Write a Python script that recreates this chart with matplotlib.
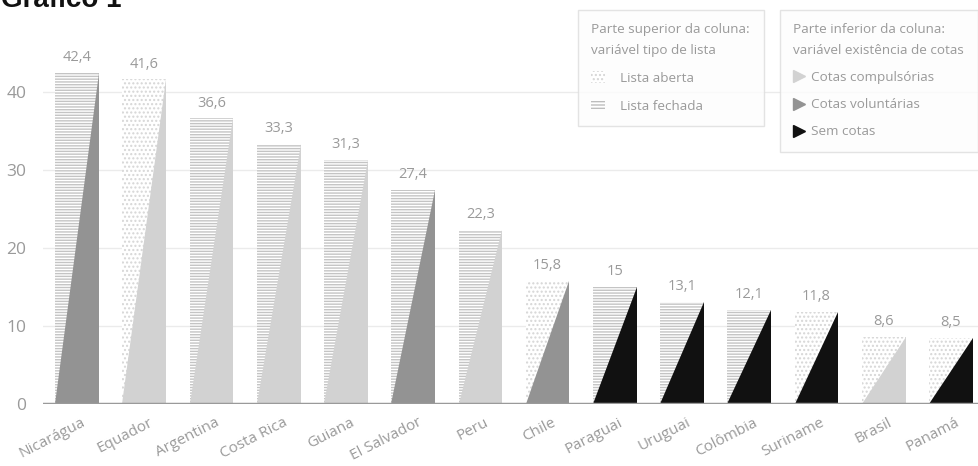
import matplotlib
matplotlib.use("Agg")
import matplotlib.pyplot as plt
from matplotlib.patches import Polygon, Patch
from matplotlib.lines import Line2D
from matplotlib.transforms import ScaledTranslation

paises = ["Nicarágua", "Equador", "Argentina", "Costa Rica", "Guiana", "El Salvador",
          "Peru", "Chile", "Paraguai", "Uruguai", "Colômbia", "Suriname", "Brasil", "Panamá"]
valores = [42.4, 41.6, 36.6, 33.3, 31.3, 27.4, 22.3, 15.8, 15, 13.1, 12.1, 11.8, 8.6, 8.5]
rotulos = ["42,4", "41,6", "36,6", "33,3", "31,3", "27,4", "22,3", "15,8", "15", "13,1",
           "12,1", "11,8", "8,6", "8,5"]
tipo_lista = ["fechada", "aberta", "fechada", "fechada", "fechada", "fechada", "fechada",
              "aberta", "fechada", "fechada", "fechada", "aberta", "aberta", "aberta"]
cotas = ["voluntarias", "compulsorias", "compulsorias", "compulsorias", "compulsorias",
         "voluntarias", "compulsorias", "voluntarias", "sem", "sem", "sem", "sem",
         "compulsorias", "sem"]

cor_cotas = {"compulsorias": "#d2d2d2", "voluntarias": "#939393", "sem": "#111111"}
hatch_lista = {"fechada": "------", "aberta": "...."}
cor_hatch = {"fechada": "#c4c4c4", "aberta": "#d6d6d6"}
grey_txt = "#9a9a9a"
font = "Open Sans"

plt.rcParams["hatch.linewidth"] = 1.0
plt.rcParams["font.family"] = [font, "DejaVu Sans"]

fig = plt.figure(figsize=(9.79, 4.66), dpi=100)
W, H = 979, 466
ax = fig.add_axes([43 / W, 62 / H, 936 / W, (404 - 45) / H])

width = 0.65
x = list(range(len(paises)))
for i, (v, lt, c) in enumerate(zip(valores, tipo_lista, cotas)):
    ax.bar(i, v, width=width, color="white", edgecolor=cor_hatch[lt],
           hatch=hatch_lista[lt], linewidth=0, zorder=2)
    tri = Polygon([(i - width / 2, 0), (i + width / 2, 0), (i + width / 2, v)],
                  closed=True, facecolor=cor_cotas[c], edgecolor="none", zorder=3)
    ax.add_patch(tri)
    ax.text(i, v + 1.0, rotulos[i], ha="center", va="bottom", fontsize=10.5,
            color=grey_txt, zorder=4)

ax.set_xlim(-0.506, 13.417)
ax.set_ylim(0, 46)
ax.set_yticks([0, 10, 20, 30, 40])
ax.yaxis.grid(True, color="#ebebeb", linewidth=1, zorder=0)
ax.set_axisbelow(True)
for s in ax.spines.values():
    s.set_visible(False)
ax.axhline(0, color="#9a9a9a", linewidth=2.5, zorder=5)
ax.tick_params(axis="y", length=0, pad=12, labelsize=12.5, labelcolor=grey_txt)
ax.tick_params(axis="x", length=0, pad=8, labelsize=11, labelcolor=grey_txt)
ax.set_xticks(x)
ax.set_xticklabels(paises, rotation=27, ha="right", rotation_mode="anchor")
off = ScaledTranslation(4 / 100, 0, fig.dpi_scale_trans)
for lbl in ax.get_xticklabels():
    lbl.set_transform(lbl.get_transform() + off)

fig.text(1 / W, 1 - 7 / H, "Gráfico 1", fontsize=20, fontweight="bold",
         family="Liberation Sans", color="#111111", ha="left", va="baseline")

# Legend 1
h1 = [Patch(facecolor="white", edgecolor="#d5d5d5", hatch="....", linewidth=0),
      Patch(facecolor="white", edgecolor="#bdbdbd", hatch="-----", linewidth=0)]
leg1 = fig.legend(h1, ["Lista aberta", "Lista fechada"],
                  title="Parte superior da coluna:\nvariável tipo de lista",
                  loc="upper left", bbox_to_anchor=(578 / W, 1 - 10 / H),
                  fontsize=9.7, title_fontsize=9.7, frameon=True, fancybox=False,
                  handlelength=1.0, handleheight=1.0, handletextpad=1.1,
                  labelspacing=1.05, borderpad=1.0, borderaxespad=0,
                  alignment="left")
leg1.get_frame().set_edgecolor("#dddddd")
leg1.get_frame().set_facecolor("#fdfdfd")
for t in leg1.get_texts():
    t.set_color(grey_txt)
leg1.get_title().set_color(grey_txt)
leg1.get_title().set_linespacing(1.75)

h2 = [Line2D([], [], marker=">", linestyle="none", markersize=9, color=cor_cotas[k])
      for k in ["compulsorias", "voluntarias", "sem"]]
leg2 = fig.legend(h2, ["Cotas compulsórias", "Cotas voluntárias", "Sem cotas"],
                  title="Parte inferior da coluna:\nvariável existência de cotas",
                  loc="upper left", bbox_to_anchor=(780 / W, 1 - 10 / H),
                  fontsize=9.7, title_fontsize=9.7, frameon=True, fancybox=False,
                  handlelength=0.8, handletextpad=0.5, labelspacing=1.05,
                  borderpad=1.0, borderaxespad=0, alignment="left")
leg2.get_frame().set_edgecolor("#dddddd")
leg2.get_frame().set_facecolor("#fdfdfd")
for t in leg2.get_texts():
    t.set_color(grey_txt)
leg2.get_title().set_color(grey_txt)
leg2.get_title().set_linespacing(1.75)

fig.savefig("out.png", dpi=100)
